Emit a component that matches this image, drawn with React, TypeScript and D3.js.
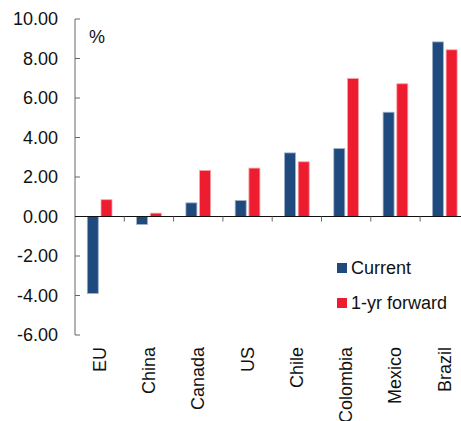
import React from "react";
import * as d3 from "d3";

const categories = ["EU", "China", "Canada", "US", "Chile", "Colombia", "Mexico", "Brazil"];
const seriesNames = ["Current", "1-yr forward"];
const currentValues = [-3.9, -0.4, 0.69, 0.81, 3.22, 3.44, 5.28, 8.84];
const forwardValues = [0.85, 0.17, 2.33, 2.45, 2.77, 6.99, 6.72, 8.44];
const yTicks = [10, 8, 6, 4, 2, 0, -2, -4, -6];

const COLORS = ["#1F4A7D", "#ED1C2E"];
const STROKES = ["#9fb1c8", "#f6a2aa"];
const FONT = "'Liberation Sans', Arial, sans-serif";

const W = 461;
const H = 421;
const left = 75;
const right = 469.4;
const top = 19;
const bottom = 335;

export default function App() {
  const x = d3.scaleBand<string>().domain(categories).range([left, right]).padding(0);
  const y = d3.scaleLinear().domain([-6, 10]).range([bottom, top]);
  const inner = d3.scaleBand<string>().domain(seriesNames).paddingInner(0.2);
  const groupW = 24.7;

  const series = [currentValues, forwardValues];
  const y0 = y(0);

  return (
    <svg
      width={W}
      height={H}
      style={{ position: "absolute", left: 0, top: 0, background: "#fff" }}
      fontFamily={FONT}
    >
      {/* bars */}
      {categories.map((c, i) => {
        const cx = (x(c) as number) + x.bandwidth() / 2;
        inner.range([cx - groupW / 2, cx + groupW / 2]);
        return series.map((vals, s) => {
          const v = vals[i];
          const bx = inner(seriesNames[s]) as number;
          const yv = y(v);
          return (
            <rect
              key={c + s}
              x={bx}
              y={Math.min(yv, y0)}
              width={inner.bandwidth()}
              height={Math.abs(yv - y0)}
              fill={COLORS[s]}
              stroke={STROKES[s]}
              strokeWidth={0.8}
            />
          );
        });
      })}

      {/* y axis */}
      <line x1={left} x2={left} y1={top} y2={bottom} stroke="#666" strokeWidth={1} />
      {yTicks.map((t) => (
        <g key={t}>
          <line x1={left} x2={left + 5} y1={y(t)} y2={y(t)} stroke="#666" strokeWidth={1} />
          <text
            x={58}
            y={y(t)}
            textAnchor="end"
            dominantBaseline="central"
            fontSize={18}
            fill="#111"
          >
            {t.toFixed(2)}
          </text>
        </g>
      ))}

      {/* zero line with category separators */}
      <line x1={left} x2={right} y1={y0} y2={y0} stroke="#111" strokeWidth={1} />
      {categories.slice(1).map((c) => (
        <line
          key={c}
          x1={x(c) as number}
          x2={x(c) as number}
          y1={y0}
          y2={y0 + 5}
          stroke="#666"
          strokeWidth={1}
        />
      ))}

      {/* category labels */}
      {categories.map((c) => {
        const cx = (x(c) as number) + x.bandwidth() / 2;
        return (
          <text
            key={c}
            transform={`translate(${cx},347) rotate(-90)`}
            textAnchor="end"
            dominantBaseline="central"
            fontSize={18}
            fill="#111"
          >
            {c}
          </text>
        );
      })}

      <text x={89} y={37} dominantBaseline="central" fontSize={18} fill="#111">
        %
      </text>

      {/* legend */}
      {seriesNames.map((n, s) => (
        <g key={n} transform={`translate(337,${263 + s * 35})`}>
          <rect width={10} height={10} fill={COLORS[s]} />
          <text x={14} y={5} dominantBaseline="central" fontSize={18} fill="#111">
            {n}
          </text>
        </g>
      ))}
    </svg>
  );
}
